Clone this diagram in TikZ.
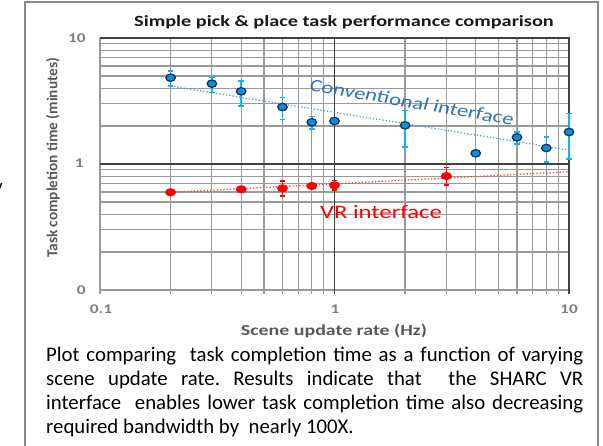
\documentclass[tikz,border=0pt]{standalone}
\usepackage{fontspec}
\setmainfont{Carlito}
\usetikzlibrary{shapes.geometric}
\definecolor{framec}{HTML}{8A8A8A}
\definecolor{gridc}{HTML}{9A9A9A}
\definecolor{majc}{HTML}{404040}
\definecolor{tickc}{HTML}{7F7F7F}
\definecolor{axc}{HTML}{595959}
\definecolor{convfill}{HTML}{0A8FD8}
\definecolor{convline}{HTML}{13315C}
\definecolor{converr}{HTML}{12B4EE}
\definecolor{convtrend}{HTML}{5B9BD5}
\definecolor{convlab}{HTML}{2E75B6}
\definecolor{vrred}{HTML}{FF0000}
\tikzset{
  gridl/.style={draw=gridc, line width=1.2pt},
  majl/.style={draw=majc, line width=1.5pt},
  stretch/.style={xscale=1.3, transform shape},
  ticklab/.style={stretch, text=tickc, inner sep=0pt, font=\bfseries\fontsize{13.3}{14}\selectfont},
  axlab/.style={text=axc, inner sep=0pt, font=\bfseries\fontsize{15.3}{16}\selectfont},
  convpt/.style={ellipse, draw=convline, fill=convfill, line width=1.3pt, minimum width=9.5pt, minimum height=7.4pt, inner sep=0pt},
  vrpt/.style={ellipse, fill=vrred, minimum width=11pt, minimum height=8.2pt, inner sep=0pt},
  converrbar/.style={draw=converr, line width=1.6pt},
  vrerrbar/.style={draw=vrred, line width=1.4pt},
}
\begin{document}
\begin{tikzpicture}[x=1pt,y=-1pt]
\useasboundingbox (0,0) rectangle (603,445);
\fill[white] (0,0) rectangle (603,445);
% outer frame
\draw[draw=framec, line width=2.2pt] (25,450) -- (25,2) -- (598,2) -- (598,450);
\node[font=\fontsize{19}{20}\selectfont, inner sep=0pt] (ycut) at (-1.5,189) {y};
% grid
\foreach \m in {2,...,9}{
  \draw[gridl] ({100+234.5*log10(\m)},38) -- ({100+234.5*log10(\m)},294);
  \draw[gridl] ({334.5+234.5*log10(\m)},38) -- ({334.5+234.5*log10(\m)},294);
  \draw[gridl] (100,{290-126*log10(\m)}) -- (569,{290-126*log10(\m)});
  \draw[gridl] (100,{164-126*log10(\m)}) -- (569,{164-126*log10(\m)});
}
\draw[gridl] (100,38) -- (100,294);
\draw[gridl] (100,290) -- (569,290);
\draw[majl] (334.5,38) -- (334.5,294);
\draw[majl] (100,164) -- (569,164);
\draw[majl] (100,38) -- (569,38) -- (569,294);
% tick labels
\node[ticklab, anchor=east] (y10) at (86,38) {10};
\node[ticklab, anchor=east] (y1) at (84,163) {1};
\node[ticklab, anchor=east] (y0) at (86,290) {0};
\node[ticklab] (x01) at (101,309) {0.1};
\node[ticklab] (x1) at (335,309) {1};
\node[ticklab] (x10) at (569,309) {10};
% titles
\node[stretch, inner sep=0pt, text=black!90, font=\bfseries\fontsize{15.6}{16}\selectfont] (title) at (344,22) {Simple pick \& place task performance comparison};
\node[axlab, stretch] (xlab) at (334,331) {Scene update rate (Hz)};
\node[axlab, rotate=90] (ylab) at (53,158) {Task completion time (minutes)};
% trend lines
\draw[draw=convtrend, line width=1.3pt, dotted] (170.6,86) -- (569,150);
\draw[draw=vrred!75, line width=1.3pt, dotted] (170.6,192.3) -- (569,171.7);
% conventional error bars
\foreach \x/\t/\b in {170.6/71/86, 211.9/76.7/92.3, 241.2/80.7/106, 282.5/97.3/119.3, 311.8/116.3/129, 405.1/110.3/146.7, 517/132/144, 546.3/136.7/161.7, 569/113.3/159}{
  \draw[converrbar] (\x,\t) -- (\x,\b);
  \draw[converrbar] (\x-2.8,\t) -- (\x+2.8,\t);
  \draw[converrbar] (\x-2.8,\b) -- (\x+2.8,\b);
}
% VR error bars
\foreach \x/\t/\b in {282.5/181/196, 334.5/180.7/190, 446.4/167.3/185}{
  \draw[vrerrbar] (\x,\t) -- (\x,\b);
  \draw[vrerrbar] (\x-2.8,\t) -- (\x+2.8,\t);
  \draw[vrerrbar] (\x-2.8,\b) -- (\x+2.8,\b);
}
% conventional points
\node[convpt] (c1) at (170.6,77.7) {};
\node[convpt] (c2) at (211.9,83.7) {};
\node[convpt] (c3) at (241.2,91.3) {};
\node[convpt] (c4) at (282.5,107) {};
\node[convpt] (c5) at (311.8,122.3) {};
\node[convpt] (c6) at (334.5,121) {};
\node[convpt] (c7) at (405.1,125.3) {};
\node[convpt] (c8) at (475.7,153.3) {};
\node[convpt] (c9) at (517,137.3) {};
\node[convpt] (c10) at (546.3,148) {};
\node[convpt] (c11) at (569,132) {};
% VR points
\node[vrpt] (v1) at (170.6,192.3) {};
\node[vrpt] (v2) at (241.2,189.3) {};
\node[vrpt] (v3) at (282.5,188.3) {};
\node[vrpt] (v4) at (311.8,186) {};
\node[vrpt] (v5) at (334.5,185.3) {};
\node[vrpt] (v6) at (446.4,176) {};
% series labels
\node[xscale=1.3, rotate=-12.6, transform shape, text=convlab, inner sep=0pt, font=\fontsize{17.5}{18}\selectfont] (convlabel) at (412,102) {Conventional interface};
\node[stretch, text=vrred, inner sep=0pt, font=\fontsize{19}{20}\selectfont] (vrlabel) at (381,212) {VR interface};
% caption
\node[anchor=base west, inner sep=0pt, text width=537pt, align=justify, font=\fontsize{20.8}{24.3}\selectfont] (caption) at (46,361) {\frenchspacing\hyphenpenalty=10000 \exhyphenpenalty=10000 Plot comparing\ \ task completion time as a function of varying\linebreak scene update rate. Results indicate that\ \ the SHARC VR\linebreak interface\ \ enables lower task completion time also decreasing\linebreak required bandwidth by\ \ nearly 100X.};
\end{tikzpicture}
\end{document}
